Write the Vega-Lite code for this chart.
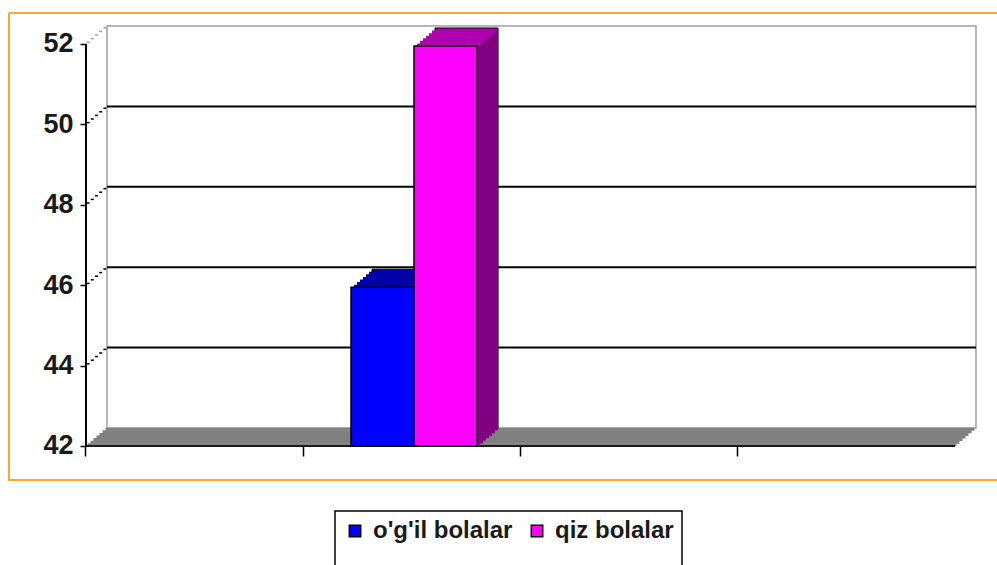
{
  "$schema": "https://vega.github.io/schema/vega-lite/v6.json",
  "width": 988,
  "height": 467,
  "autosize": {"type": "none"},
  "padding": {"left": 9, "top": 13, "right": 0, "bottom": 85},
  "background": "#ffffff",
  "config": {
    "view": {"stroke": "#ffa531", "strokeWidth": 2, "strokeDash": [988, 467, 1455, 0]},
    "legend": {"strokeWidth": 1.5}
  },
  "datasets": {
    "bars": [
      {"cat": "B", "group": "o'g'il bolalar", "value": 45.95},
      {"cat": "B", "group": "qiz bolalar", "value": 51.95}
    ],
    "grid": [{"v": 44}, {"v": 46}, {"v": 48}, {"v": 50}],
    "ticks": [{"v": 44}, {"v": 46}, {"v": 48}, {"v": 50}, {"v": 52}]
  },
  "resolve": {"scale": {"x": "independent"}, "axis": {"x": "independent"}},
  "layer": [
    {
      "layer": [
        {
          "data": {"values": [{}]},
          "mark": {"type": "rect", "fill": "#ffffff", "stroke": "#a0a0a0", "strokeWidth": 1.5, "xOffset": 21, "x2Offset": 21, "yOffset": -18, "y2Offset": -18},
          "encoding": {
            "x": {"datum": "A", "type": "nominal", "bandPosition": 0,
              "scale": {"domain": ["A", "B", "C", "D"], "paddingInner": 0, "paddingOuter": 0.27386, "align": 0.647},
              "axis": {"orient": "bottom", "offset": -34, "domain": false, "labels": false, "grid": false, "bandPosition": 0, "tickColor": "#000000", "tickWidth": 1.5, "tickSize": 10, "title": null}},
            "x2": {"datum": "D", "bandPosition": 1},
            "y": {"datum": 42, "type": "quantitative",
              "scale": {"domain": [41.154, 52.771], "nice": false, "zero": false},
              "axis": {"orient": "left", "offset": -77, "values": [42, 44, 46, 48, 50, 52], "domain": false, "grid": false, "tickColor": "#000000", "tickWidth": 1.5, "tickSize": 6, "labelFont": "Liberation Sans", "labelFontWeight": "bold", "labelFontSize": 27, "labelColor": "#1a1a1a", "labelPadding": 7, "title": null}},
            "y2": {"datum": 52}
          }
        },
        {"data": {"values": [{}]}, "mark": {"type": "rule", "color": "#808080", "strokeWidth": 3, "xOffset": 1.5, "x2Offset": 1.5, "yOffset": -1.29},
          "encoding": {"x": {"datum": "A", "type": "nominal", "bandPosition": 0}, "x2": {"datum": "D", "bandPosition": 1}, "y": {"datum": 42, "type": "quantitative"}}},
        {"data": {"values": [{}]}, "mark": {"type": "rule", "color": "#808080", "strokeWidth": 3, "xOffset": 4.5, "x2Offset": 4.5, "yOffset": -3.86},
          "encoding": {"x": {"datum": "A", "type": "nominal", "bandPosition": 0}, "x2": {"datum": "D", "bandPosition": 1}, "y": {"datum": 42, "type": "quantitative"}}},
        {"data": {"values": [{}]}, "mark": {"type": "rule", "color": "#808080", "strokeWidth": 3, "xOffset": 7.5, "x2Offset": 7.5, "yOffset": -6.43},
          "encoding": {"x": {"datum": "A", "type": "nominal", "bandPosition": 0}, "x2": {"datum": "D", "bandPosition": 1}, "y": {"datum": 42, "type": "quantitative"}}},
        {"data": {"values": [{}]}, "mark": {"type": "rule", "color": "#808080", "strokeWidth": 3, "xOffset": 10.5, "x2Offset": 10.5, "yOffset": -9},
          "encoding": {"x": {"datum": "A", "type": "nominal", "bandPosition": 0}, "x2": {"datum": "D", "bandPosition": 1}, "y": {"datum": 42, "type": "quantitative"}}},
        {"data": {"values": [{}]}, "mark": {"type": "rule", "color": "#808080", "strokeWidth": 3, "xOffset": 13.5, "x2Offset": 13.5, "yOffset": -11.57},
          "encoding": {"x": {"datum": "A", "type": "nominal", "bandPosition": 0}, "x2": {"datum": "D", "bandPosition": 1}, "y": {"datum": 42, "type": "quantitative"}}},
        {"data": {"values": [{}]}, "mark": {"type": "rule", "color": "#808080", "strokeWidth": 3, "xOffset": 16.5, "x2Offset": 16.5, "yOffset": -14.14},
          "encoding": {"x": {"datum": "A", "type": "nominal", "bandPosition": 0}, "x2": {"datum": "D", "bandPosition": 1}, "y": {"datum": 42, "type": "quantitative"}}},
        {"data": {"values": [{}]}, "mark": {"type": "rule", "color": "#808080", "strokeWidth": 3, "xOffset": 19.5, "x2Offset": 19.5, "yOffset": -16.71},
          "encoding": {"x": {"datum": "A", "type": "nominal", "bandPosition": 0}, "x2": {"datum": "D", "bandPosition": 1}, "y": {"datum": 42, "type": "quantitative"}}},
        {"data": {"name": "grid"}, "mark": {"type": "rule", "color": "#000000", "strokeWidth": 2, "xOffset": 21, "x2Offset": 21, "yOffset": -18},
          "encoding": {"x": {"datum": "A", "type": "nominal", "bandPosition": 0}, "x2": {"datum": "D", "bandPosition": 1}, "y": {"field": "v", "type": "quantitative"}}},
        {"data": {"name": "ticks"}, "mark": {"type": "rule", "strokeWidth": 1.5, "strokeDash": [3, 3000], "xOffset": 0.6, "x2Offset": 0.6, "yOffset": -1.8},
          "encoding": {"x": {"datum": "A", "type": "nominal", "bandPosition": 0}, "x2": {"datum": "D", "bandPosition": 1}, "y": {"field": "v", "type": "quantitative"},
            "color": {"condition": {"test": "datum.v == 52", "value": "#a0a0a0"}, "value": "#000000"}}},
        {"data": {"name": "ticks"}, "mark": {"type": "rule", "strokeWidth": 1.5, "strokeDash": [3, 3000], "xOffset": 4.8, "x2Offset": 4.8, "yOffset": -5.4},
          "encoding": {"x": {"datum": "A", "type": "nominal", "bandPosition": 0}, "x2": {"datum": "D", "bandPosition": 1}, "y": {"field": "v", "type": "quantitative"},
            "color": {"condition": {"test": "datum.v == 52", "value": "#a0a0a0"}, "value": "#000000"}}},
        {"data": {"name": "ticks"}, "mark": {"type": "rule", "strokeWidth": 1.5, "strokeDash": [3, 3000], "xOffset": 9, "x2Offset": 9, "yOffset": -9},
          "encoding": {"x": {"datum": "A", "type": "nominal", "bandPosition": 0}, "x2": {"datum": "D", "bandPosition": 1}, "y": {"field": "v", "type": "quantitative"},
            "color": {"condition": {"test": "datum.v == 52", "value": "#a0a0a0"}, "value": "#000000"}}},
        {"data": {"name": "ticks"}, "mark": {"type": "rule", "strokeWidth": 1.5, "strokeDash": [3, 3000], "xOffset": 13.2, "x2Offset": 13.2, "yOffset": -12.6},
          "encoding": {"x": {"datum": "A", "type": "nominal", "bandPosition": 0}, "x2": {"datum": "D", "bandPosition": 1}, "y": {"field": "v", "type": "quantitative"},
            "color": {"condition": {"test": "datum.v == 52", "value": "#a0a0a0"}, "value": "#000000"}}},
        {"data": {"name": "ticks"}, "mark": {"type": "rule", "strokeWidth": 1.5, "strokeDash": [3, 3000], "xOffset": 17.4, "x2Offset": 17.4, "yOffset": -16.2},
          "encoding": {"x": {"datum": "A", "type": "nominal", "bandPosition": 0}, "x2": {"datum": "D", "bandPosition": 1}, "y": {"field": "v", "type": "quantitative"},
            "color": {"condition": {"test": "datum.v == 52", "value": "#a0a0a0"}, "value": "#000000"}}},
        {"data": {"values": [{}]}, "mark": {"type": "rule", "color": "#000000", "strokeWidth": 2},
          "encoding": {"x": {"datum": "A", "type": "nominal", "bandPosition": 0}, "y": {"datum": 42, "type": "quantitative"}, "y2": {"datum": 52}}},
        {"data": {"values": [{}]}, "mark": {"type": "rule", "color": "#1a1a1a", "strokeWidth": 2},
          "encoding": {"x": {"datum": "A", "type": "nominal", "bandPosition": 0}, "x2": {"datum": "D", "bandPosition": 1}, "y": {"datum": 42, "type": "quantitative"}}}
      ]
    },
    {
      "data": {"name": "bars"},
      "encoding": {
        "x": {"field": "group", "type": "nominal",
          "scale": {"domain": ["_1", "_2", "_3", "_4", "_5", "o'g'il bolalar", "qiz bolalar", "_6", "_7", "_8", "_9", "_10", "_11", "_12"], "paddingInner": 0, "paddingOuter": 0.84, "align": 0.2547},
          "axis": null},
        "y": {"field": "value", "type": "quantitative"},
        "y2": {"datum": 42}
      },
      "layer": [
        {"mark": {"type": "bar", "stroke": "#000000", "strokeWidth": 1, "xOffset": 21, "x2Offset": 21, "yOffset": -18, "y2Offset": -18},
          "encoding": {"fill": {"condition": {"test": "datum.group === 'qiz bolalar'", "value": "#b400b4"}, "value": "#0000a8"}}},
        {"mark": {"type": "bar", "xOffset": 21, "x2Offset": 21, "yOffset": -15.43, "y2Offset": -15.43},
          "encoding": {"fill": {"condition": {"test": "datum.group === 'qiz bolalar'", "value": "#800080"}, "value": "#000080"}}},
        {"mark": {"type": "bar", "xOffset": 18, "x2Offset": 18, "yOffset": -15.43, "y2Offset": -15.43},
          "encoding": {"fill": {"condition": {"test": "datum.group === 'qiz bolalar'", "value": "#b400b4"}, "value": "#0000a8"}}},
        {"mark": {"type": "bar", "xOffset": 18, "x2Offset": 18, "yOffset": -12.86, "y2Offset": -12.86},
          "encoding": {"fill": {"condition": {"test": "datum.group === 'qiz bolalar'", "value": "#800080"}, "value": "#000080"}}},
        {"mark": {"type": "bar", "xOffset": 15, "x2Offset": 15, "yOffset": -12.86, "y2Offset": -12.86},
          "encoding": {"fill": {"condition": {"test": "datum.group === 'qiz bolalar'", "value": "#b400b4"}, "value": "#0000a8"}}},
        {"mark": {"type": "bar", "xOffset": 15, "x2Offset": 15, "yOffset": -10.29, "y2Offset": -10.29},
          "encoding": {"fill": {"condition": {"test": "datum.group === 'qiz bolalar'", "value": "#800080"}, "value": "#000080"}}},
        {"mark": {"type": "bar", "xOffset": 12, "x2Offset": 12, "yOffset": -10.29, "y2Offset": -10.29},
          "encoding": {"fill": {"condition": {"test": "datum.group === 'qiz bolalar'", "value": "#b400b4"}, "value": "#0000a8"}}},
        {"mark": {"type": "bar", "xOffset": 12, "x2Offset": 12, "yOffset": -7.71, "y2Offset": -7.71},
          "encoding": {"fill": {"condition": {"test": "datum.group === 'qiz bolalar'", "value": "#800080"}, "value": "#000080"}}},
        {"mark": {"type": "bar", "xOffset": 9, "x2Offset": 9, "yOffset": -7.71, "y2Offset": -7.71},
          "encoding": {"fill": {"condition": {"test": "datum.group === 'qiz bolalar'", "value": "#b400b4"}, "value": "#0000a8"}}},
        {"mark": {"type": "bar", "xOffset": 9, "x2Offset": 9, "yOffset": -5.14, "y2Offset": -5.14},
          "encoding": {"fill": {"condition": {"test": "datum.group === 'qiz bolalar'", "value": "#800080"}, "value": "#000080"}}},
        {"mark": {"type": "bar", "xOffset": 6, "x2Offset": 6, "yOffset": -5.14, "y2Offset": -5.14},
          "encoding": {"fill": {"condition": {"test": "datum.group === 'qiz bolalar'", "value": "#b400b4"}, "value": "#0000a8"}}},
        {"mark": {"type": "bar", "xOffset": 6, "x2Offset": 6, "yOffset": -2.57, "y2Offset": -2.57},
          "encoding": {"fill": {"condition": {"test": "datum.group === 'qiz bolalar'", "value": "#800080"}, "value": "#000080"}}},
        {"mark": {"type": "bar", "xOffset": 3, "x2Offset": 3, "yOffset": -2.57, "y2Offset": -2.57},
          "encoding": {"fill": {"condition": {"test": "datum.group === 'qiz bolalar'", "value": "#b400b4"}, "value": "#0000a8"}}},
        {"mark": {"type": "bar", "xOffset": 3, "x2Offset": 3},
          "encoding": {"fill": {"condition": {"test": "datum.group === 'qiz bolalar'", "value": "#800080"}, "value": "#000080"}}},
        {"mark": {"type": "bar", "stroke": "#000000", "strokeWidth": 1.5},
          "encoding": {"color": {"field": "group", "type": "nominal",
            "scale": {"domain": ["o'g'il bolalar", "qiz bolalar"], "range": ["#0000ff", "#ff00ff"]},
            "legend": {"orient": "none", "legendX": 326, "legendY": 498, "direction": "horizontal", "title": " ", "titleOrient": "bottom", "titleFontSize": 22, "titlePadding": 0, "padding": 8, "strokeColor": "#000000", "symbolType": "square", "symbolSize": 130, "symbolStrokeColor": "#000000", "symbolStrokeWidth": 1.5, "labelFont": "Liberation Sans", "labelFontWeight": "bold", "labelFontSize": 24, "labelColor": "#1a1a1a", "labelOffset": 6, "columnPadding": 12, "labelLimit": 400}}}}
      ]
    }
  ]
}
